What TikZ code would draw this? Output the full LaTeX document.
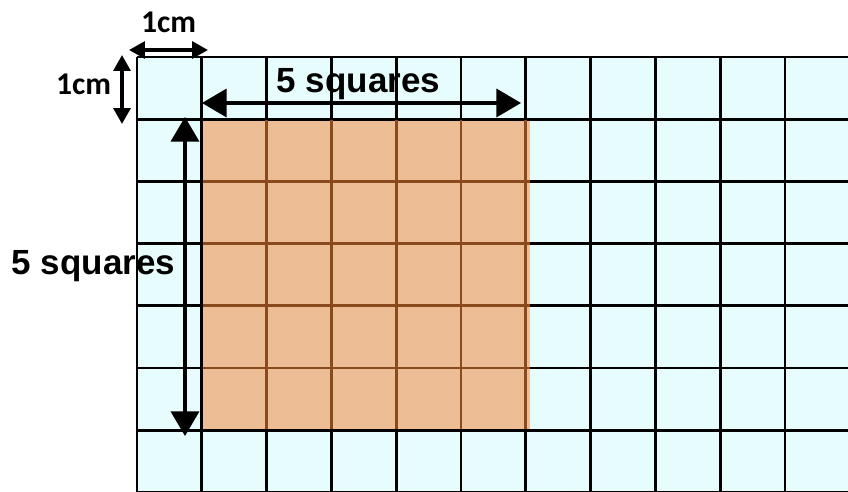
\documentclass[tikz,border=0pt]{standalone}
\usepackage{fontspec}
\setmainfont{Liberation Sans}
\newfontfamily\calib{Carlito}
\usetikzlibrary{arrows.meta}
\definecolor{gridbg}{HTML}{E6FCFD}
\definecolor{patch}{HTML}{EDBD95}
\definecolor{patchline}{HTML}{8A4A1E}
\tikzset{
  gridline/.style={line width=1.6pt, black},
  innerline/.style={line width=1.6pt, patchline},
  bigarrow/.style={line width=1.8pt, {Triangle[length=14pt,width=16pt]}-{Triangle[length=14pt,width=16pt]}},
  smallarrow/.style={line width=2pt, {Triangle[length=9pt,width=9.5pt]}-{Triangle[length=9pt,width=9.5pt]}},
  biglabel/.style={font=\fontsize{19.9}{22}\selectfont\bfseries, inner sep=0pt, anchor=base},
  smalllabel/.style={font=\calib\fontsize{18}{20}\selectfont\bfseries, inner sep=0pt, anchor=base}
}
\begin{document}
\begin{tikzpicture}[x=0.02cm, y=-0.02cm]
\useasboundingbox (0,0) rectangle (848,492);
% background grid
\fill[gridbg] (137,57) rectangle (848,492);
\fill[patch] (201.8,119.2) rectangle (530,430.2);
\foreach \i in {0,...,11} {
  \draw[gridline] ({137+64.8*\i},57) -- ({137+64.8*\i},492);
}
\foreach \j in {0,...,7} {
  \draw[gridline] (137,{57+62.2*\j}) -- (848,{57+62.2*\j});
}
% brown inner lines of the patch
\foreach \i in {2,...,6} {
  \draw[innerline] ({137+64.8*\i},120) -- ({137+64.8*\i},429.4);
}
\foreach \j in {2,...,5} {
  \draw[innerline] (202.6,{57+62.2*\j}) -- (529.5,{57+62.2*\j});
}
% coordinates for arrows
\coordinate (hA) at (129,50);
\coordinate (hB) at (208,50);
\coordinate (vA) at (122,55);
\coordinate (vB) at (122,124);
\coordinate (tA) at (202,103);
\coordinate (tB) at (521,103);
\coordinate (lA) at (185,117);
\coordinate (lB) at (185,436);
\draw[smallarrow] (hA) -- (hB);
\draw[smallarrow] (vA) -- (vB);
\draw[bigarrow] (tA) -- (tB);
\draw[bigarrow] (lA) -- (lB);
% labels
\node[smalllabel] (cmtop) at (168.5,33) {1cm};
\node[smalllabel] (cmleft) at (83.5,95) {1cm};
\node[biglabel] (sqtop) at (358.5,93) {5 squares};
\node[biglabel] (sqleft) at (93.5,275) {5 squares};
\end{tikzpicture}
\end{document}
